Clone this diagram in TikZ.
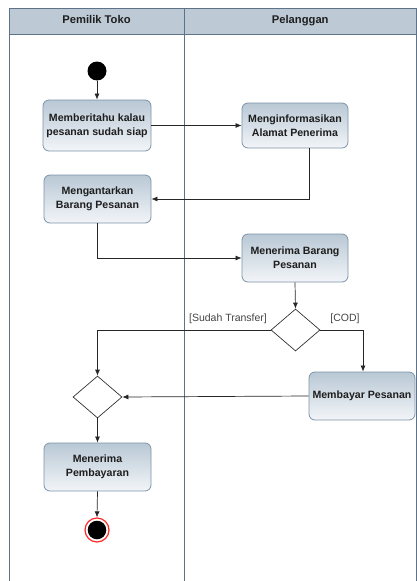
\documentclass[tikz,border=0pt]{standalone}
\usepackage{fontspec}
\setmainfont{Liberation Sans}
\usetikzlibrary{shapes.geometric,arrows.meta}
\definecolor{laneline}{HTML}{5E7387}
\definecolor{lanefill}{HTML}{BDCAD6}
\definecolor{boxline}{HTML}{7D93A8}
\definecolor{boxtop}{HTML}{B9C8D5}
\definecolor{boxbot}{HTML}{F2F5F8}
\definecolor{txt}{HTML}{1E1E1E}
\definecolor{guard}{HTML}{444444}
\begin{document}
\begin{tikzpicture}[x=1pt,y=-1pt,
  lanehead/.style={draw=laneline,fill=lanefill,line width=0.8pt,inner sep=0pt,
    text height=8pt,text depth=2.4pt,
    font=\fontsize{11.2}{13}\selectfont\bfseries,text=txt},
  action/.style={draw=boxline,line width=0.8pt,rounded corners=6pt,
    top color=boxtop,bottom color=boxbot,inner sep=0pt,align=center,
    font=\fontsize{10.6}{14}\selectfont\bfseries,text=txt},
  choice/.style={diamond,draw=black!80,line width=0.7pt,fill=white,inner sep=0pt,
    minimum width=49pt,minimum height=42pt},
  flow/.style={draw=black!85,line width=0.7pt,-{Latex[length=6pt,width=5pt]}},
  guardtext/.style={font=\fontsize{10.5}{12}\selectfont,text=guard}]
  \useasboundingbox (0,0) rectangle (417,581);

  % swimlanes
  \draw[laneline,line width=0.8pt] (9,8) -- (9,581);
  \draw[laneline,line width=0.8pt] (184,8) -- (184,581);
  \draw[laneline,line width=0.8pt] (416.5,8) -- (416.5,581);
  \node[lanehead,minimum width=175pt,minimum height=26pt] (laneA) at (96.5,21) {Pemilik Toko};
  \node[lanehead,minimum width=232.5pt,minimum height=26pt] (laneB) at (300.25,21) {Pelanggan};

  % start
  \node[circle,fill=black,minimum size=19pt,inner sep=0pt] (start) at (97,71) {};

  % actions
  \node[action,minimum width=108pt,minimum height=51pt] (notify) at (97,125.5)
    {Memberitahu kalau\\pesanan sudah siap};
  \node[action,minimum width=106pt,minimum height=45pt] (inform) at (295,125.5)
    {Menginformasikan\\Alamat Penerima};
  \node[action,minimum width=107pt,minimum height=48pt] (deliver) at (97.5,199)
    {Mengantarkan\\Barang Pesanan};
  \node[action,minimum width=106pt,minimum height=48pt] (receive) at (295,258)
    {Menerima Barang\\Pesanan};
  \node[action,minimum width=106pt,minimum height=48pt] (pay) at (362,396)
    {Membayar Pesanan};
  \node[action,minimum width=107pt,minimum height=48pt] (getpay) at (97.5,467)
    {Menerima\\Pembayaran};

  % decisions
  \node[choice] (split) at (295.5,330) {};
  \node[choice] (merge) at (97.5,397) {};

  % end
  \node[circle,draw=red!85,line width=1.2pt,fill=white,minimum size=24pt,inner sep=0pt,
    path picture={\fill[black] (path picture bounding box.center) circle (9.3pt);}]
    (finish) at (97,530) {};

  % flows
  \draw[flow] (start) -- (notify.north);
  \draw[flow] (notify.east) -- (inform.west);
  \draw[flow] ([xshift=14pt]inform.south) |- (deliver.east);
  \draw[flow] (deliver.south) |- (receive.west);
  \draw[flow] (receive.south) -- (split.north);
  \draw[flow] (split.west) -| (merge.north);
  \draw[flow] (split.east) -| ([xshift=1pt]pay.north);
  \draw[flow] (pay.west) -- (merge.east);
  \draw[flow] (merge.south) -- (getpay.north);
  \draw[flow] (getpay.south) -- (finish.north);

  % guards
  \node[guardtext] (gtransfer) at (228,319) {[Sudah Transfer]};
  \node[guardtext] (gcod) at (345,319) {[COD]};
\end{tikzpicture}
\end{document}
